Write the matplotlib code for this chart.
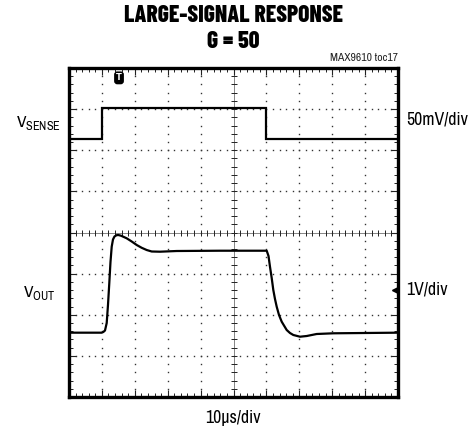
import numpy as np
import matplotlib
matplotlib.use("Agg")
import matplotlib.pyplot as plt
from matplotlib import font_manager

# ---- data (in scope divisions: x 0..10, y 0..8) ----
vsense_t = [0.0, 0.99, 0.99, 5.98, 5.98, 10.0]
vsense_v = [6.27, 6.27, 7.02, 7.02, 6.27, 6.27]

vout_t = [0.0, 0.994, 1.043, 1.094, 1.146, 1.185, 1.225, 1.261, 1.298, 1.337,
          1.383, 1.444, 1.498, 1.581, 1.754, 1.906, 2.058, 2.210, 2.362, 2.514,
          2.766, 3.274, 4.590, 6.009, 6.064, 6.109, 6.161, 6.210, 6.261, 6.313,
          6.383, 6.465, 6.617, 6.717, 6.818, 7.021, 7.225, 7.529, 8.033, 10.0]
vout_v = [1.564, 1.564, 1.581, 1.617, 1.799, 2.237, 2.772, 3.283, 3.655, 3.830,
          3.903, 3.934, 3.939, 3.922, 3.859, 3.781, 3.696, 3.628, 3.574, 3.538,
          3.533, 3.550, 3.557, 3.557, 3.429, 3.168, 2.894, 2.602, 2.383, 2.196,
          1.994, 1.831, 1.629, 1.556, 1.508, 1.466, 1.483, 1.532, 1.549, 1.564]

title1 = "LARGE-SIGNAL RESPONSE"
title2 = "G = 50"
tag = "MAX9610 toc17"
xscale_label = "10\u00b5s/div"
ch1_label = ("V", "SENSE")
ch1_scale = "50mV/div"
ch2_label = ("V", "OUT")
ch2_scale = "1V/div"

ndiv_x, ndiv_y = 10, 8

names = {f.name for f in font_manager.fontManager.ttflist}
if "Barlow Condensed" in names:
    TFONT, TW, TS = "Barlow Condensed", 800, 17
else:
    TFONT, TW, TS = "DejaVu Sans", "bold", 13
if "Archivo Narrow" in names:
    BFONT, BS, LS, SS = "Archivo Narrow", 12.8, 12.5, 8.3
elif "Barlow Condensed" in names:
    BFONT, BS, LS, SS = "Barlow Condensed", 13, 12.5, 8.3
else:
    BFONT, BS, LS, SS = "DejaVu Sans", 10, 10, 6.5
plt.rcParams['font.family'] = [BFONT, 'DejaVu Sans']
plt.rcParams['mathtext.fontset'] = 'custom'
plt.rcParams['mathtext.rm'] = BFONT

W, H = 474, 432
fig = plt.figure(figsize=(W / 100, H / 100), dpi=100)
L, R, T, B = 69, 398, 68, 397
ax = fig.add_axes([L / W, 1 - B / H, (R - L) / W, (B - T) / H])
ax.set_xlim(0, ndiv_x)
ax.set_ylim(0, ndiv_y)

# dotted grid
minor_x = np.arange(0, ndiv_x + 0.001, 0.2)
minor_y = np.arange(0, ndiv_y + 0.001, 0.2)
for i in range(1, ndiv_x):
    if i == ndiv_x // 2:
        continue
    ax.plot(np.full_like(minor_y, i), minor_y, ls='none', marker='s', ms=1.0,
            mew=0, color='#333333', zorder=1)
for j in range(1, ndiv_y):
    if j == ndiv_y // 2:
        continue
    ax.plot(minor_x, np.full_like(minor_x, j), ls='none', marker='s', ms=1.0,
            mew=0, color='#333333', zorder=1)

# center cross with ticks
cx, cy = ndiv_x / 2, ndiv_y / 2
ax.axvline(cx, color='#555555', lw=0.5, zorder=1)
ax.axhline(cy, color='#555555', lw=0.5, zorder=1)
ax.plot(np.full_like(minor_y, cx), minor_y, ls='none', marker='_', ms=5, mew=0.7,
        color='#222222', zorder=1)
ax.plot(minor_x, np.full_like(minor_x, cy), ls='none', marker='|', ms=5, mew=0.7,
        color='#222222', zorder=1)

# edge ticks
ax.set_xticks(np.arange(0, ndiv_x + 1, 1))
ax.set_yticks(np.arange(0, ndiv_y + 1, 1))
ax.set_xticks(minor_x, minor=True)
ax.set_yticks(minor_y, minor=True)
ax.tick_params(which='both', direction='in', top=True, right=True,
               labelbottom=False, labelleft=False, color='#222222')
ax.tick_params(which='major', length=5, width=0.8)
ax.tick_params(which='minor', length=3, width=0.7)
for s in ax.spines.values():
    s.set_linewidth(2.4)

# traces
ax.plot(vsense_t, vsense_v, color='black', lw=1.6, zorder=3, solid_joinstyle='miter')
ax.plot(vout_t, vout_v, color='black', lw=1.6, zorder=3)

# trigger marker
ax.text(1.52, 7.76, "T", color='white', fontsize=6, fontweight='bold',
        ha='center', va='center', family='DejaVu Sans',
        bbox=dict(boxstyle='round,pad=0.15,rounding_size=0.3', fc='black', ec='black'))
# ch2 offset arrow
ax.plot([9.9], [2.6], marker='<', ms=5, color='black', clip_on=False, zorder=4)


def fx(px):
    return px / W


def fy(py):
    return 1 - py / H


fig.text(fx(233), fy(16.5), title1, ha='center', va='center', fontsize=TS,
         fontweight=TW, family=[TFONT, 'DejaVu Sans'])
fig.text(fx(233), fy(42.5), title2, ha='center', va='center', fontsize=TS,
         fontweight=TW, family=[TFONT, 'DejaVu Sans'])
fig.text(fx(398), fy(58), tag, ha='right', va='center', fontsize=SS, color='#222222')

fig.text(fx(16), fy(123), r"%s$_{\mathregular{%s}}$" % ch1_label, ha='left', va='center',
         fontsize=LS)
fig.text(fx(406), fy(119), ch1_scale, ha='left', va='center', fontsize=BS)
fig.text(fx(23), fy(292.5), r"%s$_{\mathregular{%s}}$" % ch2_label, ha='left', va='center',
         fontsize=LS)
fig.text(fx(406), fy(290), ch2_scale, ha='left', va='center', fontsize=BS)
fig.text(fx(233), fy(418.5), xscale_label, ha='center', va='center', fontsize=BS)

fig.savefig("out.png", dpi=100)
